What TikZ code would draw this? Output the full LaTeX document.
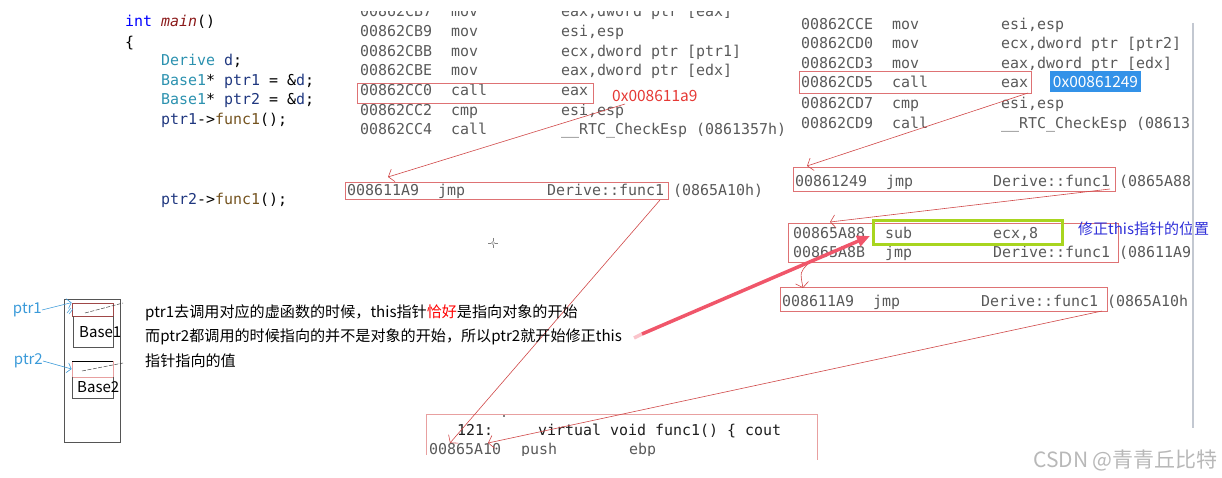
\documentclass[tikz,border=0pt]{standalone}
\usepackage{fontspec}
\setmainfont{Noto Sans CJK SC}
\setmonofont{DejaVu Sans Mono}
\usetikzlibrary{arrows.meta,fit}
\definecolor{asmgray}{HTML}{595959}
\definecolor{codedark}{HTML}{1E1E1E}
\definecolor{kwblue}{HTML}{0000FF}
\definecolor{fnred}{HTML}{8B1A1A}
\definecolor{tyteal}{HTML}{2B91AF}
\definecolor{varnavy}{HTML}{1F377F}
\definecolor{fnbrown}{HTML}{74531F}
\definecolor{boxred}{HTML}{DE7274}
\definecolor{darkbox}{HTML}{A04848}
\definecolor{connred}{HTML}{D04848}
\definecolor{lblred}{HTML}{E53935}
\definecolor{selblue}{HTML}{3392E8}
\definecolor{fixblue}{HTML}{2F2FD8}
\definecolor{ptrblue}{HTML}{3A9AD9}
\definecolor{limegreen}{HTML}{A8D51F}
\definecolor{bigarrow}{HTML}{F0566A}
\definecolor{sepgray}{HTML}{C3C8D1}
\definecolor{pinkline}{HTML}{E8A0A0}
\definecolor{wmgray}{HTML}{B8B8B8}
\definecolor{memgray}{HTML}{555555}
\newcommand\asmf{\ttfamily\fontsize{14.95}{18}\selectfont}
\newcommand\asmrow[8]{%
  \node[asm] (#1a) at (#3,#2) {#6};
  \node[asm] (#1m) at (#4,#2) {#7};
  \node[asm] (#1o) at (#5,#2) {#8};}
\begin{document}
\begin{tikzpicture}[x=1pt,y=-1pt,
  asm/.style={anchor=base west, inner sep=0pt, font=\asmf, text=asmgray},
  code/.style={anchor=base west, inner sep=0pt, font=\asmf, text=black},
  redbox/.style={draw=boxred, line width=0.9pt, inner sep=0pt},
  conn/.style={draw=connred, line width=0.6pt, -{Straight Barb[length=5pt,width=13pt]}},
  cn/.style={anchor=base west, inner sep=0pt, font=\fontsize{15.1}{18}\selectfont, text=black},
  ptrlbl/.style={anchor=east, inner sep=0pt, font=\fontsize{15}{18}\selectfont, text=ptrblue},
  ptrarrow/.style={draw=ptrblue, line width=0.6pt, -{Straight Barb[length=4pt,width=10pt]}},
  membox/.style={draw=#1, line width=0.8pt, inner sep=0pt},
  baselbl/.style={anchor=west, inner sep=0pt, font=\fontsize{15}{17}\selectfont, text=black}]
\useasboundingbox (0,0) rectangle (1222,478);
\clip (0,0) rectangle (1222,478);

% ---------- left source code ----------
\node[code] (c1) at (125,27) {{\color{kwblue}int} {\color{fnred}\itshape main}()};
\node[code] (c2) at (125,48) {\{};
\node[code] (c3) at (161,66) {{\color{tyteal}Derive} {\color{varnavy}d};};
\node[code] (c4) at (161,86) {{\color{tyteal}Base1}* {\color{varnavy}ptr1} = \&{\color{varnavy}d};};
\node[code] (c5) at (161,105) {{\color{tyteal}Base1}* {\color{varnavy}ptr2} = \&{\color{varnavy}d};};
\node[code] (c6) at (161,125) {{\color{varnavy}ptr1}->{\color{fnbrown}func1}();};
\node[code] (c7) at (161,205) {{\color{varnavy}ptr2}->{\color{fnbrown}func1}();};

% ---------- middle disassembly ----------
\begin{scope}
\clip (330,12) rectangle (800,150);
\asmrow{m0}{17}{360}{451}{561}{00862CB7}{mov}{eax,dword ptr [eax]}
\end{scope}
\asmrow{m1}{37}{360}{451}{561}{00862CB9}{mov}{esi,esp}
\asmrow{m2}{57}{360}{451}{561}{00862CBB}{mov}{ecx,dword ptr [ptr1]}
\asmrow{m3}{76}{360}{451}{561}{00862CBE}{mov}{eax,dword ptr [edx]}
\asmrow{m4}{96}{360}{451}{561}{00862CC0}{call}{eax}
\asmrow{m5}{116}{360}{451}{561}{00862CC2}{cmp}{esi,esp}
\asmrow{m6}{135}{360}{451}{561}{00862CC4}{call}{\_\_RTC\_CheckEsp (0861357h)}
\node[redbox, fit={(357,83) (593,103)}] (cb1) {};
\node[anchor=base west, inner sep=0pt, text=lblred, font=\fontsize{15.5}{18}\selectfont] (lbl1) at (612,102) {0x008611a9};

\asmrow{j1}{196}{347}{438}{547}{008611A9}{jmp}{Derive::func1 (0865A10h)}
\node[redbox, fit={(345,182) (668,199)}] (jb1) {};

% cursor mark
\draw[gray, line width=0.5pt] (493,243) circle (1.6);
\draw[gray, line width=0.5pt] (488,243) -- (491,243) (495,243) -- (498,243) (493,238) -- (493,241) (493,245) -- (493,248);

% ---------- right disassembly ----------
\begin{scope}
\clip (770,0) rectangle (1192,478);
\asmrow{r1}{30}{801}{892}{1001}{00862CCE}{mov}{esi,esp}
\asmrow{r2}{49}{801}{892}{1001}{00862CD0}{mov}{ecx,dword ptr [ptr2]}
\asmrow{r3}{69}{801}{892}{1001}{00862CD3}{mov}{eax,dword ptr [edx]}
\asmrow{r4}{88}{801}{892}{1001}{00862CD5}{call}{eax}
\asmrow{r5}{109}{801}{892}{1001}{00862CD7}{cmp}{esi,esp}
\asmrow{r6}{129}{801}{892}{1001}{00862CD9}{call}{\_\_RTC\_CheckEsp (08613}
\asmrow{j2}{187}{795}{886}{993}{00861249}{jmp}{Derive::func1 (0865A88}
\asmrow{s1}{238}{793}{885}{993}{00865A88}{sub}{ecx,8}
\asmrow{s2}{258}{793}{885}{993}{00865A8B}{jmp}{Derive::func1 (08611A9}
\asmrow{j4}{306}{782}{873}{981}{008611A9}{jmp}{Derive::func1 (0865A10h}
\end{scope}
\node[redbox, fit={(799,71) (1031,93)}] (cb2) {};
\node[fill=selblue, inner sep=0pt, minimum width=91pt, minimum height=21pt, text=white,
      font=\fontsize{15.5}{18}\selectfont] (sel) at (1095.5,81.5) {0x00861249};
\node[redbox, fit={(793,167) (1115,191)}] (jb2) {};
\node[redbox, fit={(788,223) (1118,262)}] (b3) {};
\node[draw=limegreen, line width=3pt, inner sep=0pt, fit={(873,221) (1062,244)}] (gb) {};
\node[anchor=base west, inner sep=0pt, text=fixblue, font=\fontsize{15}{18}\selectfont] (fix) at (1078,234) {修正this指针的位置};
\node[redbox, fit={(780,287) (1107,311)}] (jb4) {};
\draw[sepgray, line width=2.5pt] (1193,23) -- (1193,428);

% ---------- bottom function box ----------
\begin{scope}
\clip (420,400) rectangle (830,455);
\node[anchor=base west, inner sep=0pt, font=\asmf, text=codedark] (f1) at (457,435) {121:};
\node[anchor=base west, inner sep=0pt, font=\asmf, text=codedark] (f2) at (538,435) {virtual void func1() \{ cout};
\asmrow{f3}{454}{429}{521}{629}{00865A10}{push}{ebp}
\end{scope}
\draw[pinkline, line width=0.9pt] (426,455) -- (426,414) -- (817,414) -- (817,460);
\fill[black] (504,416) circle (0.9);

% ---------- connectors ----------
\coordinate (a1s) at (625,104); \coordinate (a1e) at (388,177);
\coordinate (a2s) at (660,200); \coordinate (a2e) at (450,443);
\coordinate (a3s) at (1028,93); \coordinate (a3e) at (807,166);
\coordinate (a4s) at (1110,189); \coordinate (a4e) at (830,222);
\coordinate (a5s) at (808,264); \coordinate (a5e) at (803,288);
\coordinate (a6s) at (1102,311); \coordinate (a6e) at (488,443);
\draw[conn] (a1s) -- (a1e);
\draw[conn] (a2s) -- (a2e);
\draw[conn] (a3s) -- (a3e);
\draw[conn] (a4s) -- (a4e);
\draw[conn] (a5s) .. controls (800,272) .. (a5e);
\draw[conn] (a6s) -- (a6e);

% ---------- explanation text ----------
\node[cn] (t1) at (145,317) {ptr1去调用对应的虚函数的时候，this指针{\color{red}恰好}是指向对象的开始};
\node[cn] (t2) at (145,341) {而ptr2都调用的时候指向的并不是对象的开始，所以ptr2就开始修正this};
\node[cn] (t3) at (145,366) {指针指向的值};

% big arrow
\coordinate (bas) at (642,334);
\coordinate (bae) at (870,236);
\draw[bigarrow!35, line width=3.5pt] (634,338) -- (bas);
\draw[bigarrow, line width=3.5pt, -{Triangle[length=13pt,width=11pt]}] (bas) -- (bae);

% ---------- memory diagram ----------
\node[membox=memgray, fit={(64,299) (120,442)}] (obj) {};
\node[membox=darkbox, fit={(72,303) (113,316)}] (vp1) {};
\draw[memgray, line width=0.8pt] (73,316) -- (73,347) -- (113,347) -- (113,316);
\node[baselbl] (bl1) at (79,332) {Base1};
\node[draw=pinkline, line width=0.8pt, inner sep=0pt, fit={(72,361) (113,377)}] (vp2) {};
\draw[black, line width=0.8pt] (72,361) -- (113,361);
\draw[memgray, line width=0.8pt] (72,377) -- (72,398) -- (113,398) -- (113,377);
\node[baselbl] (bl2) at (77,387) {Base2};
\draw[black!75, line width=0.5pt, dash pattern=on 4pt off 1.5pt] (85,313) -- (123,303);
\draw[black!75, line width=0.5pt, dash pattern=on 4pt off 1.5pt] (82,371) -- (123,363);
\node[ptrlbl] (p1) at (42,310) {ptr1};
\node[ptrlbl] (p2) at (43,361) {ptr2};
\draw[ptrarrow] (p1.east) -- (vp1.north west);
\draw[ptrarrow] (p2.east) -- (vp2.west);
\draw[ptrblue, line width=0.5pt] (67,313) -- (71,308) (69,314) -- (73,309);

% watermark
\node[anchor=east, inner sep=0pt, text=wmgray, font=\fontsize{21}{24}\selectfont] (wm) at (1218,460) {CSDN @青青丘比特};
\end{tikzpicture}
\end{document}
